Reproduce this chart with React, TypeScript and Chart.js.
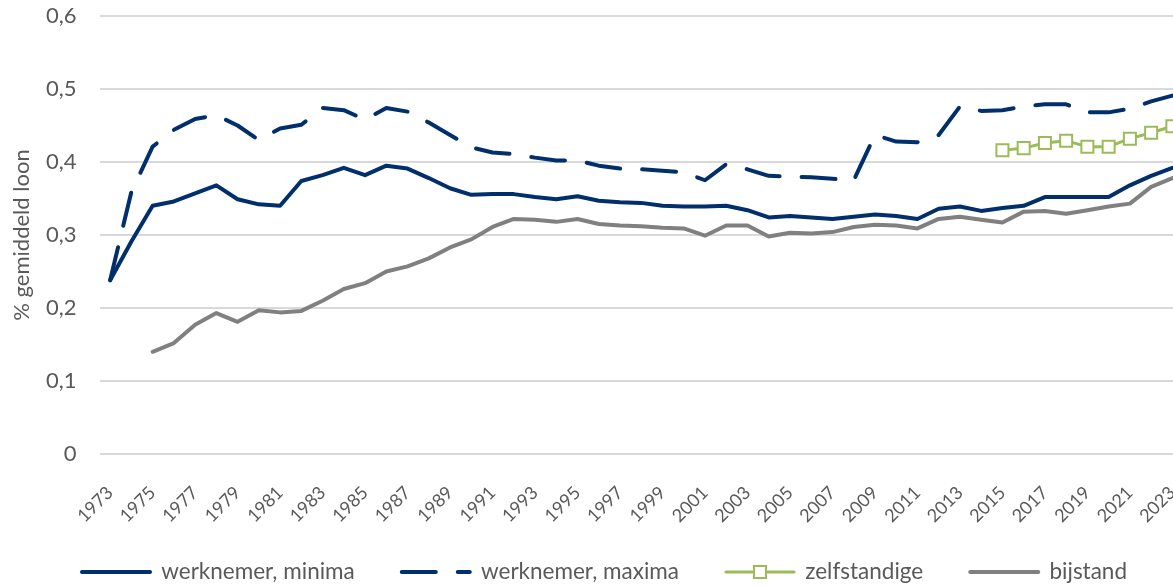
import React, { useEffect, useRef } from "react";
import { Chart, registerables } from "chart.js";

Chart.register(...registerables);

const years = [
  "1973", "1974", "1975", "1976", "1977", "1978", "1979", "1980", "1981", "1982",
  "1983", "1984", "1985", "1986", "1987", "1988", "1989", "1990", "1991", "1992",
  "1993", "1994", "1995", "1996", "1997", "1998", "1999", "2000", "2001", "2002",
  "2003", "2004", "2005", "2006", "2007", "2008", "2009", "2010", "2011", "2012",
  "2013", "2014", "2015", "2016", "2017", "2018", "2019", "2020", "2021", "2022",
  "2023",
];

const shownYears = [
  "1973", "1975", "1977", "1979", "1981", "1983", "1985", "1987", "1989", "1991",
  "1993", "1995", "1997", "1999", "2001", "2003", "2005", "2007", "2009", "2011",
  "2013", "2015", "2017", "2019", "2021", "2023",
];

const werknemerMinima = [
  0.238, 0.291, 0.340, 0.346, 0.357, 0.368, 0.349, 0.342, 0.340, 0.374,
  0.382, 0.392, 0.382, 0.395, 0.391, 0.378, 0.364, 0.355, 0.356, 0.356,
  0.352, 0.349, 0.353, 0.347, 0.345, 0.344, 0.340, 0.339, 0.339, 0.340,
  0.334, 0.324, 0.326, 0.324, 0.322, 0.325, 0.328, 0.326, 0.322, 0.336,
  0.339, 0.333, 0.337, 0.340, 0.352, 0.352, 0.352, 0.352, 0.368, 0.381,
  0.392,
];

const werknemerMaxima = [
  0.238, 0.359, 0.421, 0.444, 0.459, 0.464, 0.450, 0.430, 0.446, 0.451,
  0.474, 0.471, 0.458, 0.474, 0.469, 0.454, 0.437, 0.420, 0.413, 0.411,
  0.406, 0.402, 0.402, 0.395, 0.391, 0.390, 0.388, 0.386, 0.375, 0.397,
  0.390, 0.381, 0.380, 0.379, 0.377, 0.375, 0.437, 0.428, 0.427, 0.437,
  0.476, 0.470, 0.471, 0.476, 0.479, 0.479, 0.468, 0.468, 0.473, 0.483,
  0.491,
];

const zelfstandige = [
  null, null, null, null, null, null, null, null, null, null,
  null, null, null, null, null, null, null, null, null, null,
  null, null, null, null, null, null, null, null, null, null,
  null, null, null, null, null, null, null, null, null, null,
  null, null, 0.416, 0.419, 0.426, 0.429, 0.421, 0.421, 0.432, 0.440,
  0.449,
];

const bijstand = [
  null, null, 0.140, 0.152, 0.177, 0.193, 0.181, 0.197, 0.194, 0.196,
  0.210, 0.226, 0.234, 0.250, 0.257, 0.268, 0.283, 0.294, 0.311, 0.322,
  0.321, 0.318, 0.322, 0.315, 0.313, 0.312, 0.310, 0.309, 0.299, 0.313,
  0.313, 0.298, 0.303, 0.302, 0.304, 0.311, 0.314, 0.313, 0.309, 0.322,
  0.325, 0.321, 0.317, 0.332, 0.333, 0.329, 0.334, 0.339, 0.343, 0.366,
  0.378,
];

const NAVY = "#002f6c";
const GREEN = "#9bbb59";
const GRAY = "#808080";
const TEXT = "#595959";
const FONT = "Lato";
const LEGEND_BOX = 68;
const LEGEND_PAD = 47;
const LEGEND_FONT = 22.5;
const CANVAS_W = 1200;
const CANVAS_H = 620;
const TRANSPARENT = "rgba(0,0,0,0)";

export default function App() {
  const ref = useRef<HTMLCanvasElement | null>(null);

  useEffect(() => {
    const canvas = ref.current;
    if (!canvas) return;

    const legendPlugin = {
      id: "legendPlace",
      afterLayout(chart: any) {
        const lg = chart.legend;
        if (!lg) return;
        const h = lg.height;
        lg.top = 572 - LEGEND_FONT / 2 - LEGEND_PAD;
        lg.bottom = lg.top + h;
        const w = lg.right - lg.left;
        lg.left = 82 - LEGEND_PAD;
        lg.right = lg.left + w;
      },
      afterDraw(chart: any) {
        const lg = chart.legend;
        if (!lg || !lg.legendHitBoxes || !lg.legendHitBoxes[2]) return;
        const hb = lg.legendHitBoxes[2];
        const cx = hb.left + LEGEND_BOX / 2;
        const cy = hb.top + LEGEND_FONT / 2;
        const ctx = chart.ctx;
        ctx.save();
        ctx.fillStyle = "#ffffff";
        ctx.strokeStyle = GREEN;
        ctx.lineWidth = 2;
        ctx.fillRect(cx - 6, cy - 6, 12, 12);
        ctx.strokeRect(cx - 6, cy - 6, 12, 12);
        ctx.restore();
      },
    };

    const chart = new Chart(canvas, {
      type: "line",
      data: {
        labels: years,
        datasets: [
          {
            label: "werknemer, minima",
            data: werknemerMinima,
            borderColor: NAVY,
            backgroundColor: NAVY,
            borderWidth: 4,
            pointRadius: 0,
            borderJoinStyle: "round",
            borderCapStyle: "round",
          },
          {
            label: "werknemer, maxima",
            data: werknemerMaxima,
            borderColor: NAVY,
            backgroundColor: NAVY,
            borderWidth: 4,
            borderDash: [34, 22],
            pointRadius: 0,
            borderJoinStyle: "round",
            borderCapStyle: "round",
          },
          {
            label: "zelfstandige",
            data: zelfstandige,
            borderColor: GREEN,
            backgroundColor: "#ffffff",
            borderWidth: 3,
            pointStyle: "rect",
            pointRadius: 8.5,
            pointBackgroundColor: "#ffffff",
            pointBorderColor: GREEN,
            pointBorderWidth: 2,
            borderJoinStyle: "round",
            borderCapStyle: "round",
          },
          {
            label: "bijstand",
            data: bijstand,
            borderColor: GRAY,
            backgroundColor: GRAY,
            borderWidth: 4,
            pointRadius: 0,
            borderJoinStyle: "round",
            borderCapStyle: "round",
          },
        ],
      },
      options: {
        responsive: false,
        animation: false,
        devicePixelRatio: 1,
        layout: { padding: { left: 0, right: 17, top: 16, bottom: 0 } },
        plugins: {
          tooltip: { enabled: false },
          legend: {
            position: "bottom",
            align: "start",
            labels: {
              usePointStyle: true,
              pointStyle: "line",
              pointStyleWidth: LEGEND_BOX,
              padding: LEGEND_PAD,
              color: TEXT,
              font: { family: FONT, size: LEGEND_FONT },
              generateLabels: (c: any) =>
                c.data.datasets.map((ds: any, i: number) => ({
                  text: ds.label,
                  datasetIndex: i,
                  hidden: false,
                  fillStyle: ds.borderColor,
                  strokeStyle: ds.borderColor,
                  fontColor: TEXT,
                  lineWidth: ds.borderWidth,
                  lineDash: ds.borderDash || [],
                  lineCap: "round",
                  lineJoin: "round",
                  pointStyle: "line",
                })),
            },
          },
        },
        scales: {
          x: {
            type: "category",
            offset: true,
            grid: {
              display: true,
              drawOnChartArea: false,
              color: TRANSPARENT,
              drawTicks: true,
              tickLength: 28,
              tickColor: TRANSPARENT,
            },
            border: { display: false },
            afterFit(scale: any) {
              scale.height = CANVAS_H - 454 - (LEGEND_FONT + LEGEND_PAD + 10);
            },
            ticks: {
              autoSkip: false,
              minRotation: 45,
              maxRotation: 45,
              padding: 0,
              color: TEXT,
              font: { family: FONT, size: 18 },
              callback: (_v: any, i: number) =>
                shownYears.includes(years[i]) ? years[i] : "",
            },
          },
          y: {
            min: 0,
            max: 0.6,
            afterFit(scale: any) {
              scale.width = 99.5;
            },
            grid: {
              color: "#d9d9d9",
              lineWidth: 2,
              drawTicks: true,
              tickLength: 23,
              tickColor: TRANSPARENT,
            },
            border: { display: false },
            title: {
              display: true,
              text: "% gemiddeld loon",
              color: TEXT,
              font: { family: FONT, size: 22 },
              padding: { top: 9, bottom: 0 },
            },
            ticks: {
              stepSize: 0.1,
              padding: 0,
              color: TEXT,
              font: { family: FONT, size: 22 },
              callback: (v: any) =>
                Number(v) === 0 ? "0" : Number(v).toFixed(1).replace(".", ","),
            },
          },
        },
      },
      plugins: [legendPlugin],
    } as any);

    return () => chart.destroy();
  }, []);

  return (
    <div
      style={{
        position: "fixed",
        left: 0,
        top: 0,
        width: 1173,
        height: 586,
        overflow: "hidden",
        background: "#ffffff",
      }}
    >
      <canvas
        ref={ref}
        width={CANVAS_W}
        height={CANVAS_H}
        style={{ display: "block", width: CANVAS_W, height: CANVAS_H }}
      />
    </div>
  );
}
